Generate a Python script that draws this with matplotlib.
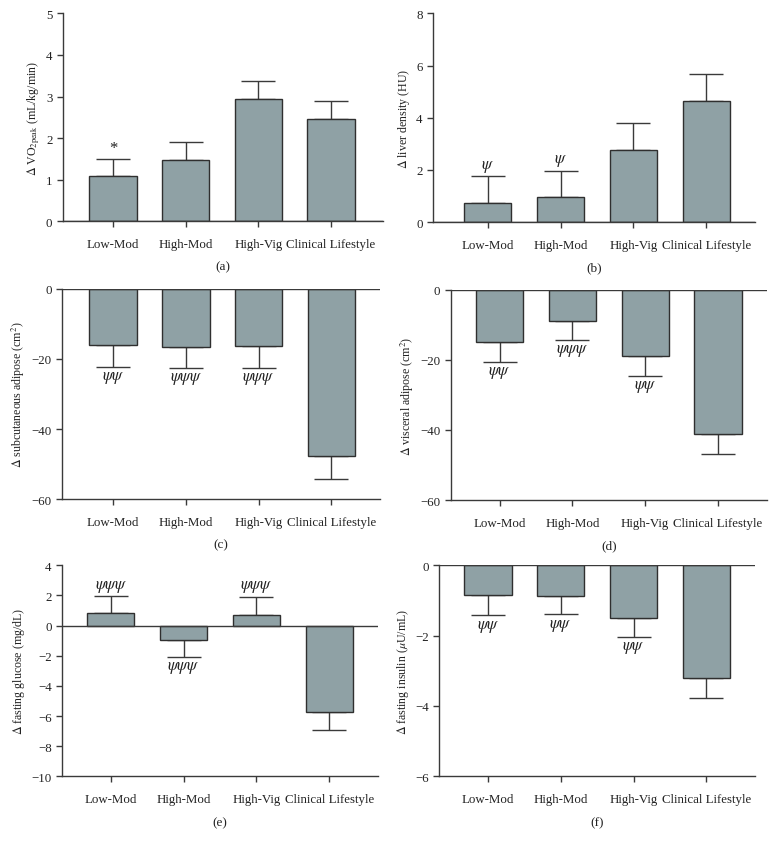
import numpy as np
import matplotlib
matplotlib.use("Agg")
import matplotlib.pyplot as plt

plt.rcParams['font.family'] = ['Liberation Serif', 'DejaVu Serif']
plt.rcParams['mathtext.fontset'] = 'stix'

groups = ["Low-Mod", "High-Mod", "High-Vig", "Clinical Lifestyle"]

# mean change and SEM per panel
vo2_mean = [1.08, 1.47, 2.94, 2.45]
vo2_sem = [0.42, 0.43, 0.43, 0.45]
liver_mean = [0.72, 0.97, 2.75, 4.63]
liver_sem = [1.04, 0.99, 1.05, 1.04]
subq_mean = [-16.0, -16.5, -16.2, -47.8]
subq_sem = [6.3, 6.1, 6.3, 6.4]
visc_mean = [-14.8, -9.0, -18.8, -41.2]
visc_sem = [5.8, 5.4, 5.9, 5.6]
gluc_mean = [0.8, -0.98, 0.7, -5.75]
gluc_sem = [1.15, 1.12, 1.2, 1.15]
ins_mean = [-0.85, -0.88, -1.5, -3.2]
ins_sem = [0.58, 0.52, 0.55, 0.57]

# significance marks per group
vo2_sig = ["*", "", "", ""]
liver_sig = [r"$\psi$", r"$\psi$", "", ""]
subq_sig = [r"$\psi\psi$", r"$\psi\psi\psi$", r"$\psi\psi\psi$", ""]
visc_sig = [r"$\psi\psi$", r"$\psi\psi\psi$", r"$\psi\psi$", ""]
gluc_sig = [r"$\psi\psi\psi$", r"$\psi\psi\psi$", r"$\psi\psi\psi$", ""]
ins_sig = [r"$\psi\psi$", r"$\psi\psi$", r"$\psi\psi$", ""]

panels = [
    (vo2_mean, vo2_sem, vo2_sig, r"$\Delta$ VO$_{2\mathrm{peak}}$ (mL/kg/min)", (0, 5), np.arange(0, 6, 1), "(a)"),
    (liver_mean, liver_sem, liver_sig, r"$\mathit{\Delta}$ liver density (HU)", (0, 8), np.arange(0, 9, 2), "(b)"),
    (subq_mean, subq_sem, subq_sig, r"$\Delta$ subcutaneous adipose (cm$^2$)", (-60, 0), np.arange(-60, 1, 20), "(c)"),
    (visc_mean, visc_sem, visc_sig, r"$\Delta$ visceral adipose (cm$^2$)", (-60, 0), np.arange(-60, 1, 20), "(d)"),
    (gluc_mean, gluc_sem, gluc_sig, r"$\Delta$ fasting glucose (mg/dL)", (-10, 4), np.arange(-10, 5, 2), "(e)"),
    (ins_mean, ins_sem, ins_sig, r"$\Delta$ fasting insulin ($\mu$U/mL)", (-6, 0), np.arange(-6, 1, 2), "(f)"),
]

# axes rectangles [left, bottom, width, height]
rects = [
    [0.081, 0.737, 0.413, 0.246],
    [0.558, 0.736, 0.415, 0.247],
    [0.080, 0.408, 0.410, 0.249],
    [0.581, 0.407, 0.407, 0.249],
    [0.080, 0.080, 0.407, 0.250],
    [0.566, 0.080, 0.407, 0.250],
]
xlims = [(-0.69, 3.72), (-0.75, 3.67), (-0.70, 3.67), (-0.67, 3.67), (-0.67, 3.67), (-0.67, 3.67)]

bar_color = "#8fa1a5"
edge = "#2f2f2f"
fig = plt.figure(figsize=(7.76, 8.45), dpi=100)

for (mean, sem, sig, ylabel, ylim, yticks, tag), rect, xl in zip(panels, rects, xlims):
    ax = fig.add_axes(rect)
    x = np.arange(len(groups))
    mean = np.array(mean)
    sem = np.array(sem)
    lower = np.where(mean < 0, sem, 0)
    upper = np.where(mean >= 0, sem, 0)
    ax.errorbar(x, mean, yerr=[lower, upper], fmt="none", ecolor="#3a3a3a",
                elinewidth=1.0, capsize=12, capthick=1.0, zorder=1)
    ax.bar(x, mean, width=0.65, color=bar_color, edgecolor=edge, linewidth=1.0, zorder=2)
    ax.axhline(0, color="#3a3a3a", lw=1.0, zorder=3)
    span = ylim[1] - ylim[0]
    for xi, m, s, t in zip(x, mean, sem, sig):
        if not t:
            continue
        if m >= 0:
            ax.text(xi, m + s + span * 0.012, t, ha="center", va="bottom", fontsize=12, color="#222")
        else:
            ax.text(xi, m - s - span * 0.01, t, ha="center", va="top", fontsize=12, color="#222")
    ax.set_xlim(*xl)
    ax.set_ylim(*ylim)
    ax.set_yticks(yticks)
    ax.set_xticks(x)
    ax.set_xticklabels(groups)
    ax.set_ylabel(ylabel, fontsize=8.6, color="#222", labelpad=3)
    for side in ["top", "right"]:
        ax.spines[side].set_visible(False)
    for side in ["left", "bottom"]:
        ax.spines[side].set_color("#3a3a3a")
        ax.spines[side].set_linewidth(1.0)
    ax.tick_params(axis="both", direction="out", length=4, width=1.0, colors="#3a3a3a",
                   labelsize=9.3, labelcolor="#222")
    ax.tick_params(axis="x", pad=8)
    ax.text(0.5, -0.215, tag, transform=ax.transAxes, ha="center", va="center", fontsize=9.5, color="#222")

fig.savefig("out.png", dpi=100)
